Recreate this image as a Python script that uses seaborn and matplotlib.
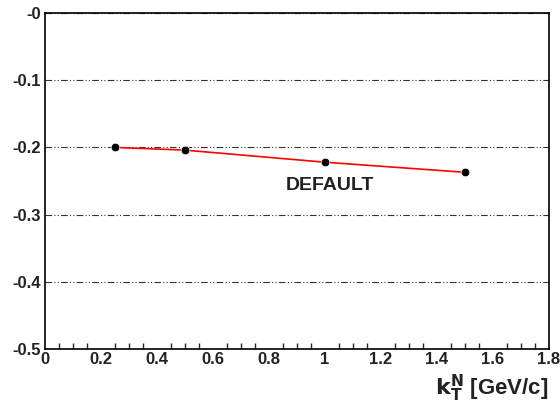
import matplotlib.pyplot as plt
import seaborn as sns
import numpy as np
import pandas as pd
from matplotlib.ticker import MultipleLocator

# data
kt = [0.25, 0.5, 1.0, 1.5]
value = [-0.200, -0.204, -0.222, -0.237]
xticks = [0, 0.2, 0.4, 0.6, 0.8, 1, 1.2, 1.4, 1.6, 1.8]
yticks = [0, -0.1, -0.2, -0.3, -0.4, -0.5]
ylabels = ['-0', '-0.1', '-0.2', '-0.3', '-0.4', '-0.5']
df = pd.DataFrame({'kT': kt, 'value': value})

sns.set_style('white')
plt.rcParams['font.family'] = ['Liberation Sans', 'DejaVu Sans']

fig = plt.figure(figsize=(5.6, 4.05), dpi=100)
ax = fig.add_axes([0.080, 0.138, 0.900, 0.830])

sns.lineplot(data=df, x='kT', y='value', color='red', linewidth=1.2, ax=ax)
sns.scatterplot(data=df, x='kT', y='value', color='black', s=38, ax=ax, zorder=5)

ax.set_xlim(0, 1.8)
ax.set_ylim(-0.5, 0)
ax.set_xticks(xticks)
ax.set_xticklabels([f'{v:g}' for v in xticks])
ax.xaxis.set_minor_locator(MultipleLocator(0.05))
ax.set_yticks(yticks)
ax.set_yticklabels(ylabels)

ax.tick_params(axis='x', which='major', direction='in', length=8, width=1, labelsize=12, pad=2)
ax.tick_params(axis='x', which='minor', direction='in', length=4, width=1, bottom=True)
ax.tick_params(axis='y', which='major', direction='in', length=0, labelsize=12, pad=3)
for lab in ax.get_xticklabels() + ax.get_yticklabels():
    lab.set_fontweight('bold')
    lab.set_color('#222222')

ax.yaxis.grid(True, color='#333333', linewidth=0.8, linestyle=(0, (6, 2, 1, 2, 1, 2)))
ax.xaxis.grid(False)
for sp in ax.spines.values():
    sp.set_color('black')
    sp.set_linewidth(1.2)

ax.text(1.02, -0.257, 'DEFAULT', fontsize=14, fontweight='bold', ha='center', va='center', color='#222222')

ax.set_xlabel(r'$\mathbf{k_T^N}$ [GeV/c]', fontsize=16, fontweight='bold', ha='right', color='#222222')
ax.xaxis.set_label_coords(1.0, -0.07)
ax.set_ylabel('')

plt.savefig('out.png', dpi=100)
